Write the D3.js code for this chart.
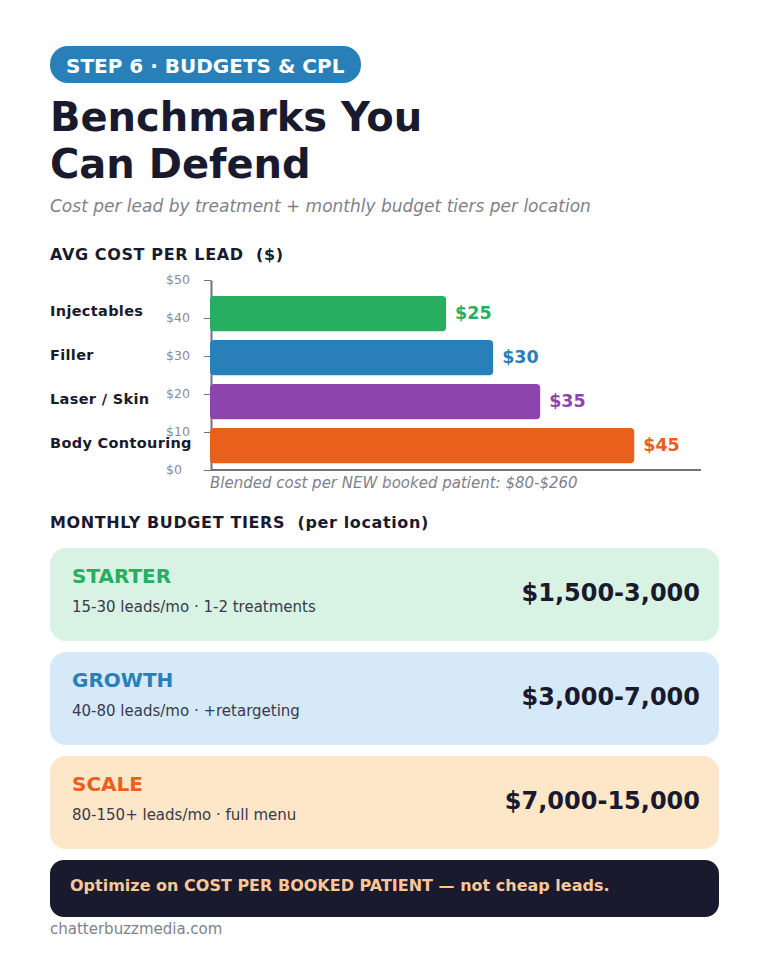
<!DOCTYPE html>
<html>
<head>
<meta charset="utf-8">
<style>
	html, body {margin: 0; padding: 0; background: #fff;}
	text {font-family: "DejaVu Sans", sans-serif; white-space: pre;}
</style>
<script src="https://d3js.org/d3.v7.min.js" charset="utf-8"></script>
</head>
<body>
<script>
// chart values
var treatments = ["Injectables", "Filler", "Laser / Skin", "Body Contouring"];
var cpl = [25, 30, 35, 45];
var barColors = ["#27ae60", "#2980b9", "#8e44ad", "#e8601c"];
var yTicks = [0, 10, 20, 30, 40, 50];

var tierNames = ["STARTER", "GROWTH", "SCALE"];
var tierNotes = ["15-30 leads/mo · 1-2 treatments", "40-80 leads/mo · +retargeting", "80-150+ leads/mo · full menu"];
var tierRanges = ["$1,500-3,000", "$3,000-7,000", "$7,000-15,000"];
var tierColors = ["#27ae60", "#2980b9", "#e8601c"];
var tierFills = ["#d8f3e4", "#d5e9f8", "#fee6c8"];

var ink = "#1a1a2e", grey = "#7f7f8c", axisGrey = "#72727f";

var svg = d3.select("body").append("svg")
	.attr("width", 768)
	.attr("height", 960)
	.style("display", "block");

function label(x, y, str, size, weight, fill, style) {
	return svg.append("text")
		.attr("x", x).attr("y", y)
		.attr("font-size", size)
		.attr("font-weight", weight || "normal")
		.attr("font-style", style || "normal")
		.attr("fill", fill)
		.text(str);
}

// header
svg.append("rect").attr("x", 50).attr("y", 46).attr("width", 311).attr("height", 37).attr("rx", 18).attr("fill", "#2980b9");
label(66, 73, "STEP 6 · BUDGETS & CPL", 20, "bold", "#fff");
label(50, 131, "Benchmarks You", 40, "bold", ink);
label(50, 178, "Can Defend", 40, "bold", ink);
label(50, 212, "Cost per lead by treatment + monthly budget tiers per location", 17, "normal", grey, "italic");

// bar chart
label(50, 260, "AVG COST PER LEAD  ($)", 16, "bold", ink).attr("letter-spacing", 0.62);

var x = d3.scaleLinear().domain([0, 52.1]).range([211, 701]);
var yAxisScale = d3.scaleLinear().domain([0, 50]).range([470, 280]);
var y = d3.scaleBand().domain(treatments).range([291.6, 467.6]).paddingInner(0.2).paddingOuter(0.1);

// axis first, the bars sit on top of it
var yAxis = svg.append("g")
	.attr("transform", "translate(" + x(0) + ",0)")
	.call(d3.axisLeft(yAxisScale).tickValues(yTicks).tickFormat(function(d) {return "$" + d;}).tickSize(7).tickSizeOuter(0));
yAxis.selectAll("line").attr("stroke", axisGrey).attr("stroke-width", 1);
yAxis.select(".domain").attr("stroke", axisGrey).attr("stroke-width", 2);
yAxis.selectAll("text")
	.attr("x", -45).attr("dy", "0").attr("y", 3)
	.attr("text-anchor", "start")
	.attr("font-family", "DejaVu Sans")
	.attr("font-size", 12.5)
	.attr("fill", "#8a8a94");

svg.append("line")
	.attr("x1", x(0)).attr("x2", 701)
	.attr("y1", yAxisScale(0)).attr("y2", yAxisScale(0))
	.attr("stroke", axisGrey).attr("stroke-width", 2);

svg.selectAll("rect.bar")
	.data(cpl)
	.enter()
	.append("rect")
	.attr("class", "bar")
	.attr("x", x(0) - 1)
	.attr("y", function(d, i) {return y(treatments[i]);})
	.attr("width", function(d) {return x(d) - x(0) + 1;})
	.attr("height", y.bandwidth())
	.attr("rx", 4)
	.attr("fill", function(d, i) {return barColors[i];});

svg.selectAll("text.val")
	.data(cpl)
	.enter()
	.append("text")
	.attr("class", "val")
	.attr("x", function(d) {return x(d) + 9;})
	.attr("y", function(d, i) {return y(treatments[i]) + y.bandwidth() / 2 + 5.5;})
	.attr("font-size", 17.5)
	.attr("font-weight", "bold")
	.attr("fill", function(d, i) {return barColors[i];})
	.text(function(d) {return "$" + d;});

svg.selectAll("text.cat")
	.data(treatments)
	.enter()
	.append("text")
	.attr("class", "cat")
	.attr("x", 50)
	.attr("y", function(d) {return y(d) + y.bandwidth() / 2 + 2.5;})
	.attr("font-size", 14.5)
	.attr("font-weight", "bold")
	.attr("letter-spacing", 0.33)
	.attr("fill", ink)
	.text(function(d) {return d;});

label(210, 488, "Blended cost per NEW booked patient: $80-$260", 15, "normal", grey, "italic");

// budget tiers
label(50, 528, "MONTHLY BUDGET TIERS  (per location)", 16, "bold", ink).attr("letter-spacing", 0.62);

var tierTop = [548, 652, 756];
tierNames.forEach(function(name, i) {
	var top = tierTop[i];
	svg.append("rect").attr("x", 50).attr("y", top).attr("width", 669).attr("height", 93).attr("rx", 16).attr("fill", tierFills[i]);
	label(72, top + 35, name, 20, "bold", tierColors[i]);
	label(72, top + 64, tierNotes[i], 15, "normal", "#3a3a48");
	label(700, top + 53, tierRanges[i], 24, "bold", ink).attr("text-anchor", "end");
});

// callout
svg.append("rect").attr("x", 50).attr("y", 860).attr("width", 669).attr("height", 57).attr("rx", 14).attr("fill", ink);
label(70, 891, "Optimize on COST PER BOOKED PATIENT — not cheap leads.", 16, "bold", "#fac898");

label(50, 934, "chatterbuzzmedia.com", 15, "normal", grey);
</script>
</body>
</html>
